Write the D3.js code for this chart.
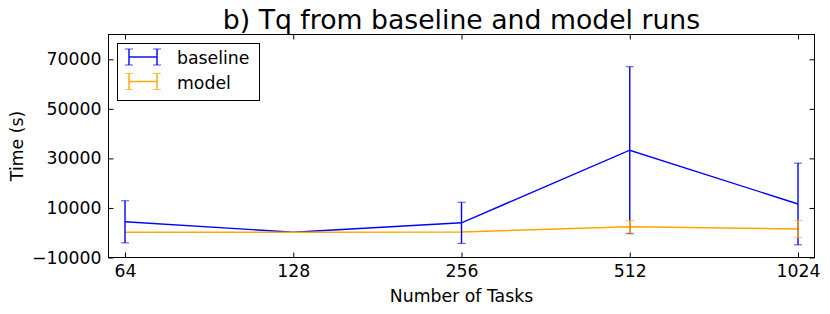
<!DOCTYPE html>
<html><head><meta charset="utf-8">
<script src="https://cdn.jsdelivr.net/npm/d3@7"></script>
<style>body{margin:0;background:#fff;} text{font-family:"DejaVu Sans",sans-serif;}</style>
</head><body><svg id="c" width="830" height="314"></svg>
<script>
const categories = ["64","128","256","512","1024"];
const baselineMean = [4400, 200, 4000, 33300, 11600];
const baselineErr  = [8500, 0, 8300, 33700, 16500];
const modelMean = [200, 200, 300, 2400, 1500];
const modelErr  = [0, 0, 0, 2500, 3500];
const yTicks = [-10000, 10000, 30000, 50000, 70000];
const seriesNames = ["baseline","model"];
const colors = ["#0000ff","#ffa500"];

const svg = d3.select("#c");
const L=108.5, R=814.5, T=34.5, B=257.5;
const FS = 17.3;
const x = d3.scalePoint().domain(categories).range([125,798]);
const y = d3.scaleLinear().domain([-10000,80000]).range([B,T]);
const fmt = d => d<0 ? "\u2212"+Math.abs(d) : String(d);

// axes
const gx = svg.append("g").attr("transform",`translate(0,${B})`)
  .call(d3.axisBottom(x).tickSizeInner(-5).tickSizeOuter(0).tickPadding(7));
const gxt = svg.append("g").attr("transform",`translate(0,${T})`)
  .call(d3.axisTop(x).tickSizeInner(-5).tickSizeOuter(0).tickFormat(""));
const gy = svg.append("g").attr("transform",`translate(${L},0)`)
  .call(d3.axisLeft(y).tickValues(yTicks).tickFormat(fmt).tickSizeInner(-5).tickSizeOuter(0).tickPadding(7));
const gyr = svg.append("g").attr("transform",`translate(${R},0)`)
  .call(d3.axisRight(y).tickValues(yTicks).tickFormat("").tickSizeInner(-5).tickSizeOuter(0));
[gx,gxt,gy,gyr].forEach(g=>{g.select(".domain").remove(); g.selectAll("line").attr("stroke","#000");
  g.selectAll("text").attr("font-size",FS).attr("fill","#000").style("font-family","DejaVu Sans");});

// data
const series = [
  {mean: baselineMean, err: baselineErr, color: colors[0]},
  {mean: modelMean, err: modelErr, color: colors[1]}
];
const line = d3.line().x((d,i)=>x(categories[i])).y(d=>y(d));
series.forEach(s=>{
  svg.append("path").attr("d", line(s.mean)).attr("fill","none").attr("stroke",s.color).attr("stroke-width",1.4);
});
series.forEach(s=>{
  const g = svg.append("g").attr("stroke",s.color).attr("stroke-width",1.4);
  s.mean.forEach((m,i)=>{
    if(!s.err[i]) return;
    const cx = x(categories[i]);
    g.append("line").attr("x1",cx).attr("x2",cx).attr("y1",y(m-s.err[i])).attr("y2",y(m+s.err[i]));
    [m-s.err[i], m+s.err[i]].forEach(v=>{
      g.append("line").attr("x1",cx-4).attr("x2",cx+4).attr("y1",y(v)).attr("y2",y(v)).attr("stroke-width",1).attr("stroke-opacity",0.7);
    });
  });
});

// frame
svg.append("rect").attr("x",L).attr("y",T).attr("width",R-L).attr("height",B-T)
  .attr("fill","none").attr("stroke","#000").attr("stroke-width",1);

// legend
const lg = svg.append("g");
lg.append("rect").attr("x",117.5).attr("y",43.5).attr("width",142).attr("height",57)
  .attr("fill","#fff").attr("stroke","#000").attr("stroke-width",1);
seriesNames.forEach((n,i)=>{
  const cy = 57 + i*24.5;
  const g = lg.append("g").attr("stroke",colors[i]).attr("stroke-width",1.4);
  g.append("line").attr("x1",129).attr("x2",157).attr("y1",cy).attr("y2",cy);
  [129,157].forEach(cx=>{
    g.append("line").attr("x1",cx).attr("x2",cx).attr("y1",cy-8).attr("y2",cy+8);
    [cy-8,cy+8].forEach(v=>g.append("line").attr("x1",cx-4).attr("x2",cx+4).attr("y1",v).attr("y2",v).attr("stroke-width",1).attr("stroke-opacity",0.7));
  });
  lg.append("text").attr("x",177).attr("y",cy+1).attr("dy","0.35em").attr("font-size",FS).text(n);
});

// titles
svg.append("text").attr("x",(L+R)/2).attr("y",29).attr("text-anchor","middle").attr("font-size",26.7).text("b) Tq from baseline and model runs");
svg.append("text").attr("x",(L+R)/2).attr("y",302).attr("text-anchor","middle").attr("font-size",FS).text("Number of Tasks");
svg.append("text").attr("transform",`translate(23,${(T+B)/2}) rotate(-90)`).attr("text-anchor","middle").attr("font-size",FS).text("Time (s)");
</script></body></html>
